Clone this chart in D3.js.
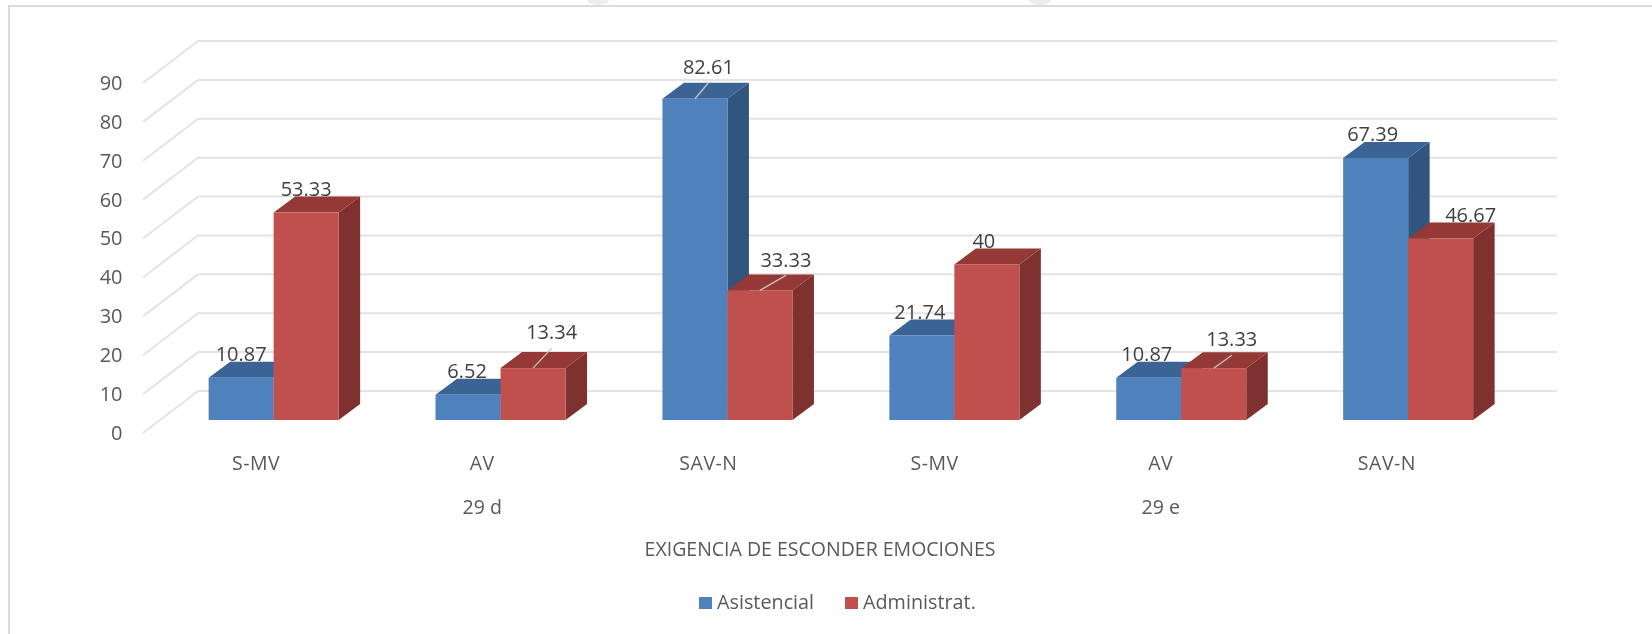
<!DOCTYPE html>
<html><head><meta charset="utf-8">
<script src="https://cdn.jsdelivr.net/npm/d3@7"></script>
<style>html,body{margin:0;padding:0;background:#fff}svg{display:block;filter:blur(0.45px)}text{font-family:"Open Sans","Noto Sans",sans-serif}</style>
</head><body><svg id="c" width="1652" height="634"></svg>
<script>
// ---- data ----
const categories = ["S-MV","AV","SAV-N","S-MV","AV","SAV-N"];
const groupLabels = ["29 d","29 e"];
const seriesNames = ["Asistencial","Administrat."];
const asistencial = [10.87,6.52,82.61,21.74,10.87,67.39];
const administrat = [53.33,13.34,33.33,40,13.33,46.67];
const yTicks = [0,10,20,30,40,50,60,70,80,90];
const axisTitle = "EXIGENCIA DE ESCONDER EMOCIONES";

// ---- layout ----
const labelOffsetsA = [[0,-24],[-1,-24],[13.5,-32],[-2,-24],[-2,-24],[-3,-24]];
const labelOffsetsB = [[0,-24],[18.6,-36],[26,-31],[-3,-24],[18,-29],[30,-24]];
const leadersA = [false,false,true,false,false,false];
const leadersB = [false,true,true,false,true,false];
const colors = {
  a:{front:"#4f81bd",top:"#3b6393",side:"#32557f"},
  b:{front:"#c0504d",top:"#953936",side:"#7e312f"}
};
const svg = d3.select("#c");
const y = d3.scaleLinear().domain([0,90]).range([433,83]);
const wallDx = 55, wallDy = -42, wallW = 1359;
const baseRaise = 13, barDx = 21.5, barDy = -16;
const x0 = d3.scaleBand().domain(d3.range(categories.length)).range([160.2,1521.6]);
const x1 = d3.scaleBand().domain([0,1]).range([0,130]);
const barLeft = (i,s)=> x0(i) + (x0.bandwidth()-130)/2 + x1(s);
const vy = v => y(v) - baseRaise;

// faint scan marks at the top edge
svg.append("g").attr("fill","#eceeea").selectAll("ellipse").data([598,1040]).join("ellipse")
  .attr("cx",d=>d).attr("cy",0).attr("rx",11).attr("ry",5);

// frame
svg.append("path").attr("d","M9,634V6H1652").attr("fill","none").attr("stroke","#dcdcdc").attr("stroke-width",2);

// gridlines
const grid = svg.append("g").attr("fill","none").attr("stroke","#e4e4e4").attr("stroke-width",2);
grid.selectAll("path").data(yTicks).join("path")
  .attr("d",d=>`M143,${y(d)}L${143+wallDx},${y(d)+wallDy}H${143+wallDx+wallW}`);

// y axis
const yAxis = d3.axisLeft(y).tickValues(yTicks).tickSize(0).tickPadding(0);
const ga = svg.append("g").attr("transform","translate(122.5,0)").call(yAxis);
ga.select(".domain").remove();
ga.selectAll("text").attr("font-size",20).attr("fill","#595959").style("font-family",'"Open Sans"');

// bars
const bars = svg.append("g");
const barData = [];
categories.forEach((c,i)=>{
  barData.push({i,s:0,v:asistencial[i],col:colors.a});
  barData.push({i,s:1,v:administrat[i],col:colors.b});
});
const w = x1.bandwidth();
const bg = bars.selectAll("g").data(barData).join("g");
bg.append("path").attr("fill",d=>d.col.side).attr("d",d=>{
  const l=barLeft(d.i,d.s)+w,t=vy(d.v),b=vy(0);
  return `M${l},${t}L${l+barDx},${t+barDy}V${b+barDy}L${l},${b}Z`;});
bg.append("path").attr("fill",d=>d.col.top).attr("d",d=>{
  const l=barLeft(d.i,d.s),t=vy(d.v);
  return `M${l},${t}L${l+barDx},${t+barDy}H${l+w+barDx}L${l+w},${t}Z`;});
bg.append("rect").attr("fill",d=>d.col.front)
  .attr("x",d=>barLeft(d.i,d.s)).attr("y",d=>vy(d.v))
  .attr("width",w).attr("height",d=>vy(0)-vy(d.v));

// value labels
const labels = svg.append("g");
barData.forEach(d=>{
  const off=(d.s?labelOffsetsB:labelOffsetsA)[d.i], lead=(d.s?leadersB:leadersA)[d.i];
  const cx=barLeft(d.i,d.s)+w/2, t=vy(d.v);
  if(lead) labels.append("line").attr("x1",cx).attr("y1",t).attr("x2",cx+off[0]).attr("y2",t+off[1]+16)
    .attr("stroke","#c4c4c4").attr("stroke-width",1.3);
  labels.append("text").attr("x",cx+off[0]).attr("y",t+off[1]).attr("dy","0.36em")
    .attr("text-anchor","middle").attr("font-size",20).attr("fill","#404040").text(d.v);
});

// category labels
const catX = d3.scaleBand().domain(d3.range(categories.length)).range([143,1500]);
const catLab = svg.append("g");
catLab.selectAll("text.c").data(categories).join("text").attr("class","c")
  .attr("x",(d,i)=>catX(i)+catX.bandwidth()/2).attr("y",463).attr("dy","0.36em")
  .attr("text-anchor","middle").attr("font-size",19.5).attr("letter-spacing",0.5).attr("fill","#595959").text(d=>d);
catLab.selectAll("text.g").data(groupLabels).join("text").attr("class","g")
  .attr("x",(d,i)=>catX(i*3+1)+catX.bandwidth()/2).attr("y",506.5).attr("dy","0.36em")
  .attr("text-anchor","middle").attr("font-size",19.5).attr("fill","#595959").text(d=>d);
svg.append("text").attr("x",820).attr("y",549).attr("dy","0.36em").attr("text-anchor","middle")
  .attr("font-size",19.5).attr("fill","#595959").text(axisTitle);

// legend
const legendX = [699,845];
const lg = svg.append("g").selectAll("g").data(seriesNames).join("g");
lg.append("rect").attr("x",(d,i)=>legendX[i]).attr("y",597).attr("width",13).attr("height",12)
  .attr("fill",(d,i)=>i?colors.b.front:colors.a.front);
lg.append("text").attr("x",(d,i)=>legendX[i]+18).attr("y",602).attr("dy","0.36em")
  .attr("font-size",19.8).attr("fill","#595959").text(d=>d);
</script></body></html>
